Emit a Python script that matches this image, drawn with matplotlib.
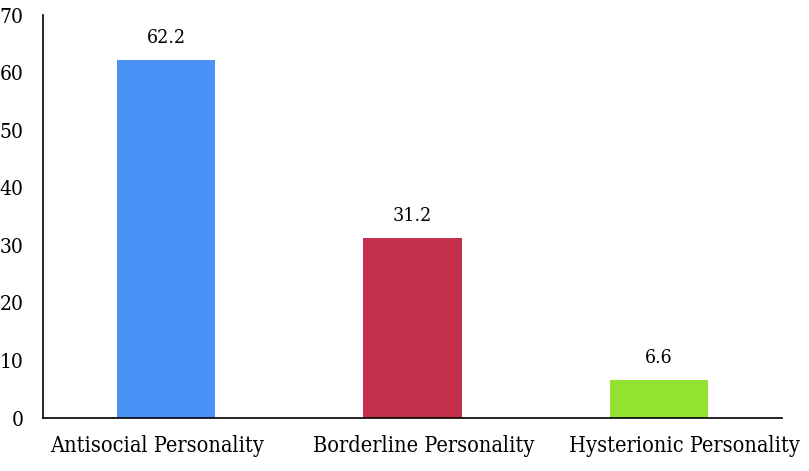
import matplotlib
matplotlib.use("Agg")
import matplotlib.pyplot as plt
from matplotlib.transforms import ScaledTranslation

categories = ["Antisocial Personality", "Borderline Personality", "Hysterionic Personality"]
values = [62.2, 31.2, 6.6]
colors = ["#4a92f7", "#c4304c", "#93e232"]
yticks = [0, 10, 20, 30, 40, 50, 60, 70]

plt.rcParams['font.family'] = ['DejaVu Serif']
plt.rcParams['font.stretch'] = 'condensed'

fig = plt.figure(figsize=(8.09, 4.71), dpi=100)
ax = fig.add_axes([0.0532, 0.1125, 0.9134, 0.8555])
x = list(range(len(categories)))
bars = ax.bar(x, values, width=0.4, color=colors)
for xi, v in zip(x, values):
    ax.annotate(f"{v}", (xi, v), xytext=(0, 9.5), textcoords="offset points",
                ha="center", va="bottom", fontsize=14)
ax.set_xlim(-0.5, 2.5)
ax.set_ylim(0, 70)
ax.set_yticks(yticks)
ax.set_yticklabels([str(t) for t in yticks])
ax.set_xticks(x)
ax.set_xticklabels(categories)
ax.tick_params(axis='y', length=0, labelsize=15, pad=14)
ax.tick_params(axis='x', length=0, labelsize=15.6, pad=12)
# labels in the reference sit slightly off the bar centres
shifts = [-0.09, 0.11, 0.26]
for lab, s in zip(ax.get_xticklabels(), shifts):
    lab.set_transform(lab.get_transform() + ScaledTranslation(s, 0, fig.dpi_scale_trans))
for s in ["top", "right"]:
    ax.spines[s].set_visible(False)
for s in ["left", "bottom"]:
    ax.spines[s].set_linewidth(1.2)
fig.savefig("out.png", dpi=100)
